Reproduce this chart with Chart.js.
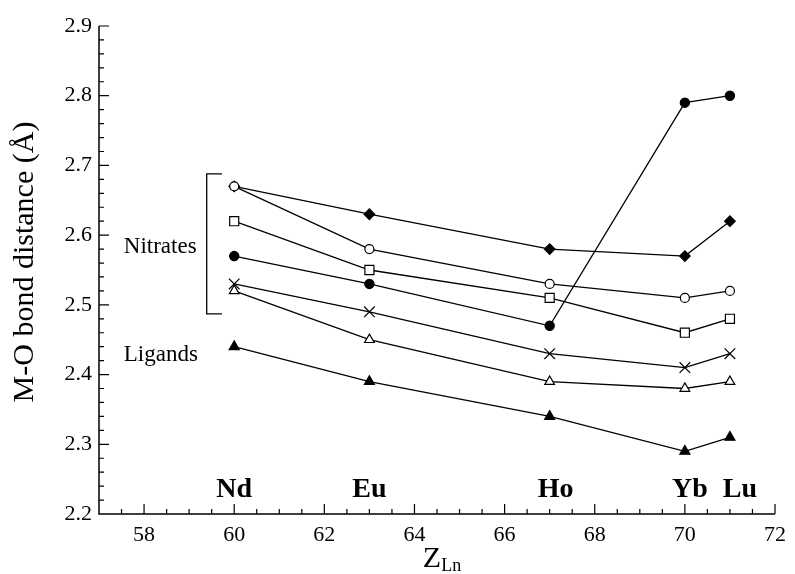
<!DOCTYPE html>
<html>
<head>
<meta charset="utf-8">
<script src="https://cdn.jsdelivr.net/npm/chart.js@4.4.1/dist/chart.umd.min.js"></script>
<style>
  body { margin: 0; background: #fff; }
  #wrap { width: 795px; height: 574px; }
</style>
</head>
<body>
<div id="wrap"><canvas id="chart" width="795" height="574"></canvas></div>
<script>
// atomic number of each lanthanide and its symbol
var zValues = [60, 63, 67, 70, 71];
var elementNames = ['Nd', 'Eu', 'Ho', 'Yb', 'Lu'];

// M-O distances (Å), one array per marker type
var openCircle     = [2.67, 2.58, 2.53, 2.51, 2.52];
var openSquare     = [2.62, 2.55, 2.51, 2.46, 2.48];
var filledCircle   = [2.57, 2.53, 2.47, 2.79, 2.80];
var crossMark      = [2.53, 2.49, 2.43, 2.41, 2.43];
var openTriangle   = [2.52, 2.45, 2.39, 2.38, 2.39];
var filledTriangle = [2.44, 2.39, 2.34, 2.29, 2.31];
var filledDiamond  = [2.67, 2.63, 2.58, 2.57, 2.62];

// axis ticks
var xTickValues = [58, 60, 62, 64, 66, 68, 70, 72];
var yTickValues = [2.2, 2.3, 2.4, 2.5, 2.6, 2.7, 2.8, 2.9];

var SERIF = "'Liberation Serif', 'Times New Roman', serif";

function pts(values) {
  return values.map(function(v, i) { return {x: zValues[i], y: v}; });
}

function series(values, style, filled, radius) {
  return {
    data: pts(values),
    borderColor: '#000',
    borderWidth: 1.3,
    pointStyle: style,
    pointRadius: radius,
    pointBorderWidth: 1.2,
    pointBorderColor: '#000',
    pointBackgroundColor: filled ? '#000' : '#fff'
  };
}

// inward ticks, axis lines and all the annotation text
var decorations = {
  id: 'decorations',
  afterDraw: function(chart) {
    var ctx = chart.ctx;
    var a = chart.chartArea;
    var x = chart.scales.x, y = chart.scales.y;
    ctx.save();
    ctx.strokeStyle = '#000';
    ctx.fillStyle = '#000';

    ctx.lineWidth = 1.5;
    ctx.beginPath();
    ctx.moveTo(a.left, a.top);
    ctx.lineTo(a.left, a.bottom);
    ctx.lineTo(a.right, a.bottom);
    ctx.stroke();

    ctx.lineWidth = 1.2;
    ctx.beginPath();
    // y: minor every 0.02, long at every 0.1
    for (var i = 1; i <= 35; i++) {
      var py = y.getPixelForValue(2.2 + i * 0.02);
      var len = i % 5 === 0 ? 10 : 5;
      ctx.moveTo(a.left, py);
      ctx.lineTo(a.left + len, py);
    }
    // x: minor every 0.5, long at even numbers
    for (var j = 1; j <= 30; j++) {
      var v = 57 + j * 0.5;
      var px = x.getPixelForValue(v);
      var l = v % 2 === 0 ? 10 : 5;
      ctx.moveTo(px, a.bottom);
      ctx.lineTo(px, a.bottom - l);
    }
    ctx.stroke();

    // bracket grouping the nitrate distances
    var bx = x.getPixelForValue(59.39), bx2 = x.getPixelForValue(59.73);
    var bt = y.getPixelForValue(2.688), bb = y.getPixelForValue(2.487);
    ctx.lineWidth = 1.3;
    ctx.beginPath();
    ctx.moveTo(bx2, bt);
    ctx.lineTo(bx, bt);
    ctx.lineTo(bx, bb);
    ctx.lineTo(bx2, bb);
    ctx.stroke();

    ctx.textBaseline = 'alphabetic';
    ctx.textAlign = 'left';
    ctx.font = '23px ' + SERIF;
    ctx.fillText('Nitrates', x.getPixelForValue(57.55), y.getPixelForValue(2.575));
    ctx.fillText('Ligands', x.getPixelForValue(57.55), y.getPixelForValue(2.419));

    // element symbols along the bottom
    ctx.textAlign = 'center';
    ctx.font = 'bold 28px ' + SERIF;
    var nudge = {Ho: 6, Yb: 5, Lu: 10};
    elementNames.forEach(function(name, k) {
      ctx.fillText(name, x.getPixelForValue(zValues[k]) + (nudge[name] || 0), y.getPixelForValue(2.225));
    });

    // y title, rotated
    ctx.save();
    ctx.translate(25, (a.top + a.bottom) / 2 - 8);
    ctx.rotate(-Math.PI / 2);
    ctx.textBaseline = 'middle';
    ctx.font = '30px ' + SERIF;
    ctx.fillText('M-O bond distance (Å)', 0, 0);
    ctx.restore();

    // x title: Z with subscript Ln
    ctx.textAlign = 'left';
    ctx.font = '30px ' + SERIF;
    var zw = ctx.measureText('Z').width;
    ctx.font = '18px ' + SERIF;
    var sw = ctx.measureText('Ln').width;
    var tx = (a.left + a.right) / 2 + 5 - (zw + sw) / 2;
    ctx.font = '30px ' + SERIF;
    ctx.fillText('Z', tx, 567);
    ctx.font = '18px ' + SERIF;
    ctx.fillText('Ln', tx + zw, 571);
    ctx.restore();
  }
};

new Chart(document.getElementById('chart'), {
  type: 'line',
  data: {
    datasets: [
      series(openCircle, 'circle', false, 4.5),
      series(openSquare, 'rect', false, 6.4),
      series(filledCircle, 'circle', true, 4.6),
      series(crossMark, 'crossRot', false, 7.5),
      series(openTriangle, 'triangle', false, 5.6),
      series(filledTriangle, 'triangle', true, 5.8),
      series(filledDiamond, 'rectRot', true, 5.3)
    ]
  },
  options: {
    responsive: false,
    animation: false,
    layout: { padding: { top: 26, right: 20, left: 0, bottom: 0 } },
    plugins: { legend: { display: false }, tooltip: { enabled: false } },
    scales: {
      x: {
        type: 'linear',
        min: 57,
        max: 72,
        grid: { display: false, drawTicks: false },
        border: { display: false },
        afterBuildTicks: function(s) { s.ticks = xTickValues.map(function(v) { return {value: v}; }); },
        afterFit: function(s) { s.height = 60; },
        ticks: {
          autoSkip: false,
          maxRotation: 0,
          padding: 8,
          color: '#000',
          font: { family: SERIF, size: 22 },
          callback: function(v) { return String(v); }
        }
      },
      y: {
        min: 2.2,
        max: 2.9,
        grid: { display: false, drawTicks: false },
        border: { display: false },
        afterBuildTicks: function(s) { s.ticks = yTickValues.map(function(v) { return {value: v}; }); },
        afterFit: function(s) { s.width = 99; },
        ticks: {
          padding: 7,
          color: '#000',
          font: { family: SERIF, size: 22 },
          callback: function(v) { return v.toFixed(1); }
        }
      }
    }
  },
  plugins: [decorations]
});
</script>
</body>
</html>
